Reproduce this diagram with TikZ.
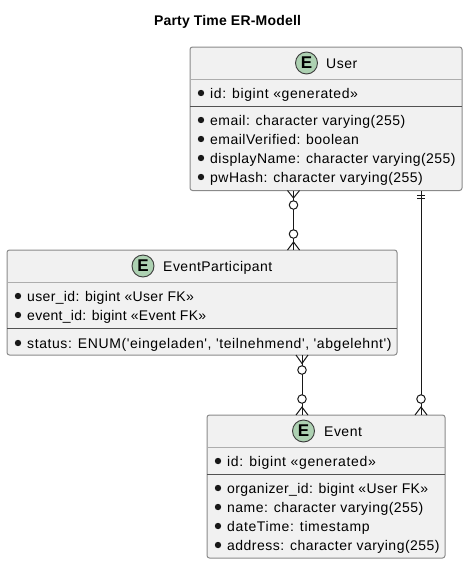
\documentclass[tikz,border=0pt]{standalone}
\usepackage{fontspec}
\setmainfont{Liberation Sans}
\newfontfamily\rowfont[LetterSpace=3.4]{Liberation Sans}
\newfontfamily\titlefont[LetterSpace=1.4]{Liberation Sans}
\usetikzlibrary{calc}
\definecolor{boxfill}{HTML}{F1F1F1}
\definecolor{ink}{HTML}{181818}
\definecolor{edge}{HTML}{8A8A8A}
\definecolor{spot}{HTML}{ADD1B2}
\tikzset{
  entity/.style={draw=edge,fill=boxfill,line width=1pt,rounded corners=2.5pt,anchor=north west,inner sep=0pt,outer sep=0pt},
  headtext/.style={anchor=base west,inner sep=0pt,font=\rowfont\fontsize{14}{16}\selectfont,text=black},
  row/.style={anchor=base west,inner sep=0pt,font=\rowfont\fontsize{14}{16}\selectfont,text=black},
  divider/.style={draw=edge!70,line width=1pt},
  heavydiv/.style={draw=ink!75,line width=1pt},
  spotc/.style={circle,draw=ink!85,fill=spot,line width=0.9pt,minimum size=22pt,inner sep=0pt,font=\fontsize{17}{18}\selectfont\bfseries},
  dot/.style={circle,fill=ink,minimum size=6.4pt,inner sep=0pt},
  rel/.style={draw=ink,line width=1pt},
  ring/.style={circle,draw=ink,fill=white,line width=1pt,minimum size=8.5pt,inner sep=0pt},
}
\newcommand{\ebox}[5]{% name, x, y, w, h
  \node[entity,minimum width=#4pt,minimum height=#5pt] (#1) at (#2,#3) {};}
\newcommand{\rowat}[5][3.4]{% letter space, name, x, baseline, text
  \node[dot] (#2d) at (#3-9,#4-5) {};
  \node[row] (#2) at (#3,#4) {\addfontfeature{LetterSpace=#1}#5};}
\begin{document}
\begin{tikzpicture}[x=1pt,y=-1pt]
\useasboundingbox (0,0) rectangle (469,565);
\node[anchor=base,inner sep=0pt,font=\titlefont\fontsize{14}{16}\selectfont\bfseries] (title) at (227.5,25) {Party Time ER-Modell};

% connectors
\coordinate (cu) at (293.5,0);
\coordinate (cv) at (302,0);
\coordinate (cw) at (421,0);

% User
\ebox{user}{190}{47}{272}{143.5}{}
\draw[divider] (190,79) -- (462,79);
\draw[heavydiv] (190,106) -- (462,106);
\node[spotc] (uicon) at (306.5,63) {E};
\node[headtext] (uhead) at (326,68) {User};
\rowat[4.4]{uid}{210}{98}{id: bigint «generated»}
\rowat{uem}{210}{125}{email: character varying(255)}
\rowat{uev}{210}{144}{emailVerified: boolean}
\rowat{udn}{210}{163}{displayName: character varying(255)}
\rowat{upw}{210}{182}{pwHash: character varying(255)}

% EventParticipant
\ebox{part}{7}{250}{390}{105}{}
\draw[divider] (7,282) -- (397,282);
\draw[heavydiv] (7,328) -- (397,328);
\node[spotc] (picon) at (143,266) {E};
\node[headtext] (phead) at (163,271) {EventParticipant};
\rowat[2.5]{pu}{27}{301}{user\_id: bigint «User FK»}
\rowat[2.0]{pe}{27}{320}{event\_id: bigint «Event FK»}
\rowat[4.2]{ps}{27}{348}{status: ENUM('eingeladen', 'teilnehmend', 'abgelehnt')}

% Event
\ebox{event}{207}{415}{238}{143}{}
\draw[divider] (207,447) -- (445,447);
\draw[heavydiv] (207,474) -- (445,474);
\node[spotc] (eicon) at (303.5,431) {E};
\node[headtext] (ehead) at (324,436) {Event};
\rowat[4.7]{ei}{227}{466}{id: bigint «generated»}
\rowat[2.9]{eo}{227}{493}{organizer\_id: bigint «User FK»}
\rowat{en}{227}{512}{name: character varying(255)}
\rowat[4.5]{ed}{227}{531}{dateTime: timestamp}
\rowat{ea}{227}{550}{address: character varying(255)}

% User -- EventParticipant
\draw[rel] (user.south -| cu) -- (part.north -| cu);
\draw[rel] (287.5,190.5) -- (293.5,198) -- (299.5,190.5);
\node[ring] (r1) at (293.5,205) {};
\node[ring] (r2) at (293.5,234) {};
\draw[rel] (287.5,250) -- (293.5,242) -- (299.5,250);

% EventParticipant -- Event
\draw[rel] (part.south -| cv) -- (event.north -| cv);
\draw[rel] (296,355) -- (302,363.5) -- (308,355);
\node[ring] (r3) at (302,370) {};
\node[ring] (r4) at (302,399) {};
\draw[rel] (296,415) -- (302,407) -- (308,415);

% User -- Event
\draw[rel] (user.south -| cw) -- (event.north -| cw);
\draw[rel] (417,195) -- (425,195);
\draw[rel] (417,198) -- (425,198);
\node[ring] (r5) at (421,399) {};
\draw[rel] (415,415) -- (421,407) -- (427,415);
\end{tikzpicture}
\end{document}
